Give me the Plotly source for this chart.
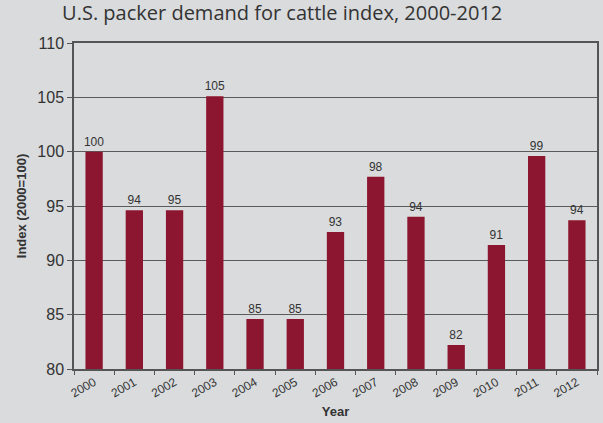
import plotly.graph_objects as go

years = ["2000", "2001", "2002", "2003", "2004", "2005", "2006",
         "2007", "2008", "2009", "2010", "2011", "2012"]
index_values = [100.0, 94.6, 94.6, 105.1, 84.6, 84.6, 92.6,
                97.7, 94.0, 82.2, 91.4, 99.6, 93.7]
value_labels = ["100", "94", "95", "105", "85", "85", "93",
                "98", "94", "82", "91", "99", "94"]
y_ticks = [80, 85, 90, 95, 100, 105, 110]

bg = "#d9dbdd"
axis_col = "#555555"

fig = go.Figure(go.Bar(
    x=years, y=index_values,
    marker=dict(color="#8c1630", line=dict(width=0)),
    text=value_labels, textposition="outside", constraintext="none",
    textfont=dict(family="Liberation Sans, Arial", size=12, color="#333333"),
    cliponaxis=False,
))

fig.update_layout(
    width=603, height=423,
    margin=dict(l=74, r=4, t=43, b=54),
    paper_bgcolor=bg, plot_bgcolor=bg,
    bargap=0.57,
    showlegend=False,
    title=dict(text="U.S. packer demand for cattle index, 2000-2012",
               x=0.468, xanchor="center", y=0.985, yanchor="top",
               font=dict(family="Open Sans", size=20, color="#333333")),
    xaxis=dict(
        type="category", tickangle=-30, tickson="boundaries",
        ticks="outside", ticklen=4, tickcolor=axis_col,
        showline=True, linecolor=axis_col, linewidth=1.5, mirror=True,
        showgrid=False,
        tickfont=dict(family="Liberation Sans, Arial", size=12, color="#333333"),
        title=dict(text="<b>Year</b>", standoff=8,
                   font=dict(family="Liberation Sans, Arial", size=13, color="#333333")),
    ),
    yaxis=dict(
        range=[80, 110], tickvals=y_ticks,
        ticks="outside", ticklen=5, tickcolor=axis_col,
        showline=True, linecolor=axis_col, linewidth=1.5, mirror=True,
        showgrid=True, gridcolor="#5a5a5a", gridwidth=1.2,
        zeroline=False,
        tickfont=dict(family="Liberation Sans, Arial", size=16, color="#333333"),
        title=dict(text="<b>Index (2000=100)</b>", standoff=8,
                   font=dict(family="Liberation Sans, Arial", size=13, color="#333333")),
    ),
)

fig.write_html("out.html")
